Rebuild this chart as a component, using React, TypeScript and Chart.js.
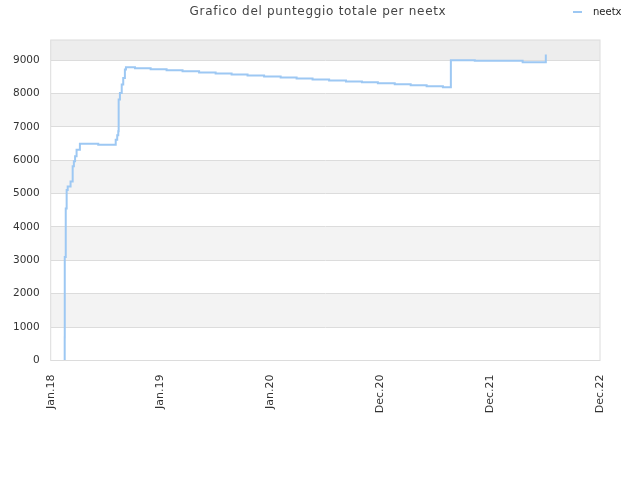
import { useRef, useEffect } from "react";
import { Chart, registerables } from "chart.js";

Chart.register(...registerables);

// days since 1 Jan 2018 at which the score changes
const DAYS = [
  46, 46.5, 46.7, 50, 53, 56.5, 66, 73, 77, 81, 86, 97, 158, 216, 221, 224.5,
  225.8, 230, 236, 241, 246.5, 250, 280, 332, 385, 438, 493, 548, 601, 654,
  709, 764, 817, 870, 925, 981, 1034, 1087, 1143, 1196, 1249, 1303, 1329.5,
  1409, 1568, 1645,
];
const SCORES = [
  0, 700, 3100, 4550, 5110, 5215, 5365, 5815, 5965, 6115, 6315, 6495, 6465,
  6615, 6750, 6865, 7815, 8015, 8265, 8465, 8715, 8785, 8755, 8725, 8695,
  8665, 8625, 8595, 8565, 8535, 8505, 8475, 8445, 8415, 8385, 8360, 8335,
  8305, 8275, 8245, 8215, 8185, 8995, 8975, 8935, 9165,
];
const X_TICKS = [0, 365, 730, 1095, 1460, 1825];
const X_LABELS = ["Jan.18", "Jan.19", "Jan.20", "Dec.20", "Dec.21", "Dec.22"];
const Y_TICKS = [0, 1000, 2000, 3000, 4000, 5000, 6000, 7000, 8000, 9000];
const SERIES = "neetx";
const TITLE = "Grafico del punteggio totale per neetx";

const LINE_COLOR = "#9dc8f3";
const FONT = "'DejaVu Sans', sans-serif";

const decor = {
  id: "decor",
  beforeDraw(chart: any) {
    const { ctx, chartArea: a, scales } = chart;
    const y = scales.y;
    ctx.save();
    for (let i = 0; i < Y_TICKS.length; i++) {
      const v0 = Y_TICKS[i];
      const v1 = i + 1 < Y_TICKS.length ? Y_TICKS[i + 1] : y.max;
      const top = y.getPixelForValue(v1);
      const bot = y.getPixelForValue(v0);
      if (i % 2 === 1) {
        ctx.fillStyle = i === Y_TICKS.length - 1 ? "#ededed" : "#f3f3f3";
        ctx.fillRect(a.left, top, a.right - a.left, bot - top);
      }
    }
    ctx.restore();
  },
  afterDraw(chart: any) {
    const { ctx, chartArea: a } = chart;
    ctx.save();
    ctx.strokeStyle = "#dcdcdc";
    ctx.lineWidth = 1;
    ctx.strokeRect(a.left, a.top, a.right - a.left, a.bottom - a.top);
    // title
    ctx.fillStyle = "#444";
    ctx.font = "12px " + FONT;
    ctx.textAlign = "center";
    ctx.textBaseline = "middle";
    (ctx as any).letterSpacing = "0.7px";
    ctx.fillText(TITLE, 318, 12);
    (ctx as any).letterSpacing = "0px";
    // legend
    ctx.strokeStyle = LINE_COLOR;
    ctx.lineWidth = 2;
    ctx.beginPath();
    ctx.moveTo(573, 12);
    ctx.lineTo(582, 12);
    ctx.stroke();
    ctx.fillStyle = "#222";
    ctx.font = "10px " + FONT;
    ctx.textAlign = "left";
    ctx.fillText(SERIES, 593, 12);
    ctx.restore();
  },
};

export default function App() {
  const canvasRef = useRef<HTMLCanvasElement>(null);
  const chartRef = useRef<Chart | null>(null);

  useEffect(() => {
    if (!canvasRef.current) return;
    chartRef.current = new Chart(canvasRef.current, {
      type: "line",
      data: {
        datasets: [
          {
            label: SERIES,
            data: DAYS.map((d, i) => ({ x: d, y: SCORES[i] })),
            borderColor: LINE_COLOR,
            backgroundColor: LINE_COLOR,
            borderWidth: 2,
            pointRadius: 0,
            stepped: true,
            fill: false,
          },
        ],
      },
      options: {
        animation: false,
        responsive: false,
        layout: { padding: { top: 40, right: 40, left: 0, bottom: 0 } },
        plugins: {
          legend: { display: false },
          title: { display: false },
          tooltip: { enabled: false },
        },
        scales: {
          x: {
            type: "linear",
            min: 0,
            max: 1825,
            afterBuildTicks: (s: any) => {
              s.ticks = X_TICKS.map((v) => ({ value: v }));
            },
            afterFit: (s: any) => {
              s.height = 119.5;
            },
            ticks: {
              autoSkip: false,
              minRotation: 90,
              maxRotation: 90,
              padding: 6,
              color: "#333",
              font: { family: FONT, size: 11 },
              callback: (v: any) => X_LABELS[X_TICKS.indexOf(Number(v))] ?? "",
            },
            grid: { display: false },
            border: { display: false },
          },
          y: {
            type: "linear",
            min: 0,
            max: 9600,
            afterBuildTicks: (s: any) => {
              s.ticks = Y_TICKS.map((v) => ({ value: v }));
            },
            afterFit: (s: any) => {
              s.width = 50.7;
            },
            ticks: {
              autoSkip: false,
              padding: 11,
              color: "#333",
              font: { family: FONT, size: 10.5 },
              callback: (v: any) => String(v),
            },
            grid: { color: "#dcdcdc", drawTicks: false },
            border: { display: false },
          },
        },
      },
      plugins: [decor],
    });
    return () => {
      chartRef.current?.destroy();
      chartRef.current = null;
    };
  }, []);

  return (
    <div style={{ position: "absolute", left: 0, top: 0, width: 640, height: 480, background: "#fff" }}>
      <canvas ref={canvasRef} width={640} height={480} style={{ width: 640, height: 480 }} />
    </div>
  );
}
